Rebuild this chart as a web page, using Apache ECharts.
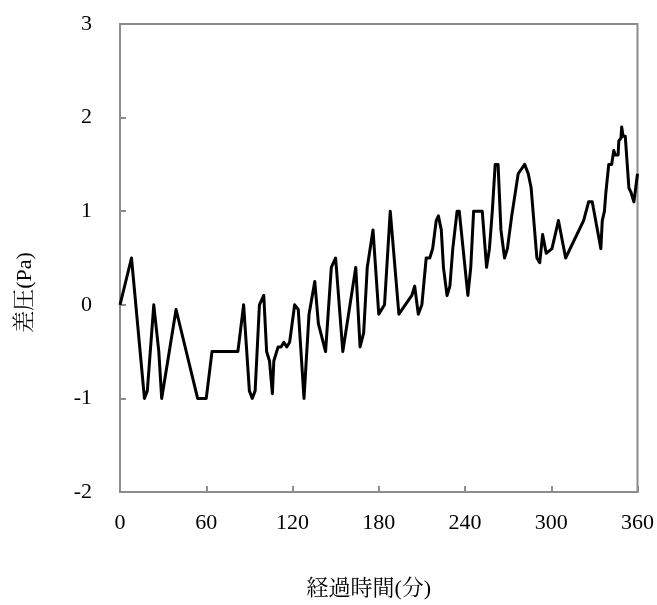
<!DOCTYPE html>
<html>
<head>
<meta charset="utf-8">
<script src="https://cdn.jsdelivr.net/npm/echarts@6/dist/echarts.min.js"></script>
<style>
html,body{margin:0;padding:0;background:#fff;}
#chart{width:657px;height:605px;}
</style>
</head>
<body>
<div id="chart"></div>
<script>
const times = [
  0, 8, 17, 19, 23.5, 27, 29, 30, 39, 54,
  60, 64, 82, 86, 90, 92, 94, 97, 100, 102,
  104, 106, 107, 110, 112, 114, 116, 118, 121.5, 124,
  128, 131.5, 135.5, 138, 143, 147, 150, 155, 164, 167,
  169.5, 172, 176, 180, 184, 188, 194, 203, 205, 207.5,
  210, 213, 215.5, 217.5, 220, 221.5, 223.5, 225, 227.5, 229.5,
  231.5, 234.5, 236, 242, 244, 246, 252, 255, 257, 259,
  261, 263, 265, 267.5, 269.5, 272.5, 277, 281.5, 284, 286,
  290, 292, 294, 296.5, 300.5, 305, 310, 322.5, 326, 328.5,
  334.5, 335.5, 337, 338, 340, 342, 343.5, 344.5, 346.5, 347,
  348.5, 349, 350, 351.5, 354, 355.5, 357.5, 360
];
const pressure = [
  0, 0.5, -1, -0.92, 0, -0.5, -1, -1, -0.05, -1,
  -1, -0.5, -0.5, 0, -0.92, -1, -0.92, 0, 0.1, -0.5,
  -0.6, -0.95, -0.6, -0.45, -0.45, -0.4, -0.45, -0.4, 0, -0.05,
  -1, -0.1, 0.25, -0.2, -0.5, 0.4, 0.5, -0.5, 0.4, -0.45,
  -0.3, 0.4, 0.8, -0.1, 0, 1.0, -0.1, 0.1, 0.2, -0.1,
  0, 0.5, 0.5, 0.6, 0.9, 0.95, 0.8, 0.4, 0.1, 0.2,
  0.6, 1.0, 1.0, 0.1, 0.4, 1.0, 1.0, 0.4, 0.6, 1.0,
  1.5, 1.5, 0.8, 0.5, 0.6, 0.95, 1.4, 1.5, 1.4, 1.25,
  0.5, 0.45, 0.75, 0.55, 0.6, 0.9, 0.5, 0.9, 1.1, 1.1,
  0.6, 0.9, 1.0, 1.2, 1.5, 1.5, 1.65, 1.6, 1.6, 1.75,
  1.78, 1.9, 1.8, 1.8, 1.25, 1.2, 1.1, 1.4
];
const xAxisName = '経過時間(分)';
const yAxisName = '差圧(Pa)';

const FONT = "'Liberation Serif', 'Times New Roman', 'Noto Serif CJK JP', 'Noto Sans CJK JP', serif";
const AXIS_COLOR = '#8c8c8c';

const chart = echarts.init(document.getElementById('chart'), null, {renderer: 'canvas'});
chart.setOption({
  animation: false,
  backgroundColor: '#ffffff',
  grid: {
    left: 120, right: 17, top: 24, bottom: 112,
    show: true, borderColor: AXIS_COLOR, borderWidth: 2, containLabel: false
  },
  xAxis: {
    type: 'value', min: 0, max: 360, interval: 60,
    name: xAxisName, nameLocation: 'middle', nameGap: 86,
    nameTextStyle: {fontFamily: FONT, fontSize: 22, color: '#000', padding: [0, 20, 0, 0]},
    axisLine: {show: true, onZero: false, lineStyle: {color: AXIS_COLOR, width: 2}},
    axisTick: {show: true, inside: true, length: 6, lineStyle: {color: AXIS_COLOR, width: 2}},
    axisLabel: {fontFamily: FONT, fontSize: 22, color: '#000', margin: 20},
    splitLine: {show: false}
  },
  yAxis: {
    type: 'value', min: -2, max: 3, interval: 1,
    name: yAxisName, nameLocation: 'middle', nameGap: 84, nameRotate: 90,
    nameTextStyle: {fontFamily: FONT, fontSize: 22, color: '#000', padding: [0, 69, 0, 0]},
    axisLine: {show: true, onZero: false, lineStyle: {color: AXIS_COLOR, width: 2}},
    axisTick: {show: true, inside: true, length: 6, lineStyle: {color: AXIS_COLOR, width: 2}},
    axisLabel: {fontFamily: FONT, fontSize: 22, color: '#000', margin: 28},
    splitLine: {show: false}
  },
  series: [{
    type: 'line',
    data: times.map((t, i) => [t, pressure[i]]),
    symbol: 'none',
    smooth: false,
    lineStyle: {color: '#000', width: 3, join: 'round'},
    clip: false
  }]
});
</script>
</body>
</html>
